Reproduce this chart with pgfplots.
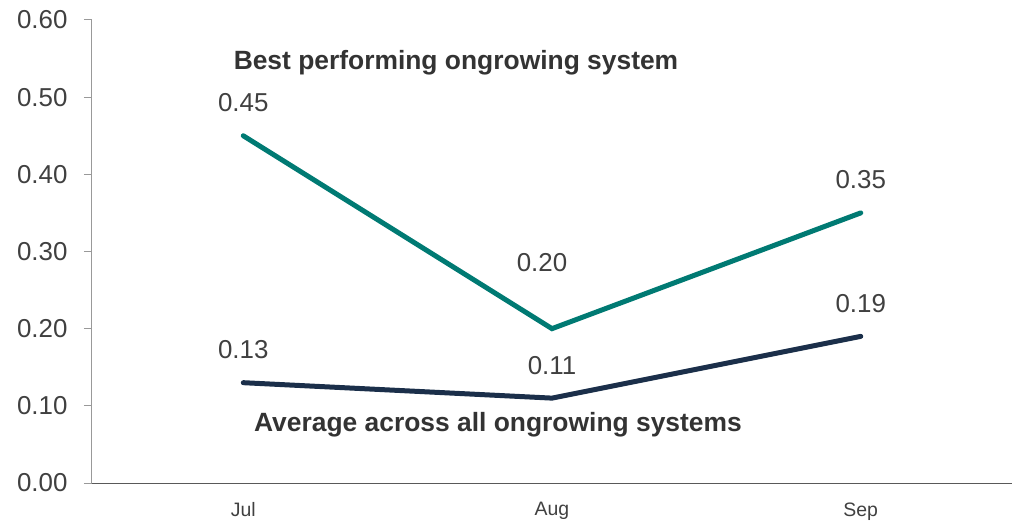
\documentclass[border=0pt]{standalone}
\usepackage{fontspec}
\setmainfont{Liberation Sans}
\usepackage{pgfplots}
\pgfplotsset{compat=1.18}
\usepackage{pgfplotstable}

\definecolor{teal}{HTML}{007A73}
\definecolor{navy}{HTML}{1B2F4A}
\definecolor{txt}{HTML}{404040}

\pgfplotstableread{
x y dx dy
0 0.45 0 33
1 0.20 -10 66
2 0.35 0 33
}\best
\pgfplotstableread{
x y dx dy
0 0.13 0 33
1 0.11 0 33
2 0.19 0 33
}\avg

\begin{document}
\begin{tikzpicture}
\path[use as bounding box] (-92bp,-38bp) rectangle (922bp,483bp);
\begin{axis}[
  scale only axis,
  width=920bp, height=463bp,
  xmin=-0.49, xmax=2.49,
  ymin=0, ymax=0.6,
  ytick={0,0.1,...,0.6},
  xtick={0,1,2},
  xticklabels={Jul,Aug,Sep},
  axis lines=left,
  axis line style={-},
  x axis line style={color=black!65, line width=1bp},
  y axis line style={color=black!40, line width=1bp},
  ytick style={color=black!40, line width=1bp},
  tick align=outside,
  major tick length=8bp,
  xtick style={draw=none},
  yticklabel style={font=\fontsize{26}{30}\selectfont, color=txt, xshift=-13bp},
  xticklabel style={font=\fontsize{19.5}{22}\selectfont, color=txt, yshift=-8bp},
  /pgf/number format/assume math mode=true,
  yticklabel={\pgfmathprintnumber[fixed,fixed zerofill,precision=2]{\tick}},
  clip=false,
  point meta=explicit,
  nodes near coords={\pgfmathprintnumber[fixed,fixed zerofill,precision=2]{\pgfplotspointmeta}},
  nodes near coords style={font=\fontsize{26}{30}\selectfont, color=txt, anchor=center, xshift=\dx bp, yshift=\dy bp},
]
\addplot[teal, line width=5bp, line cap=round, mark=none,
  visualization depends on={\thisrow{dx}\as\dx},
  visualization depends on={\thisrow{dy}\as\dy}]
  table[x=x, y=y, meta=y] {\best};
\addplot[navy, line width=5bp, line cap=round, mark=none,
  visualization depends on={\thisrow{dx}\as\dx},
  visualization depends on={\thisrow{dy}\as\dy}]
  table[x=x, y=y, meta=y] {\avg};
\node[font=\bfseries\fontsize{26.5}{30}\selectfont, color=black!80] at (axis cs:0.689,0.545) {Best performing ongrowing system};
\node[font=\bfseries\fontsize{26.5}{30}\selectfont, color=black!80] at (axis cs:0.825,0.076) {Average across all ongrowing systems};
\end{axis}
\end{tikzpicture}
\end{document}
